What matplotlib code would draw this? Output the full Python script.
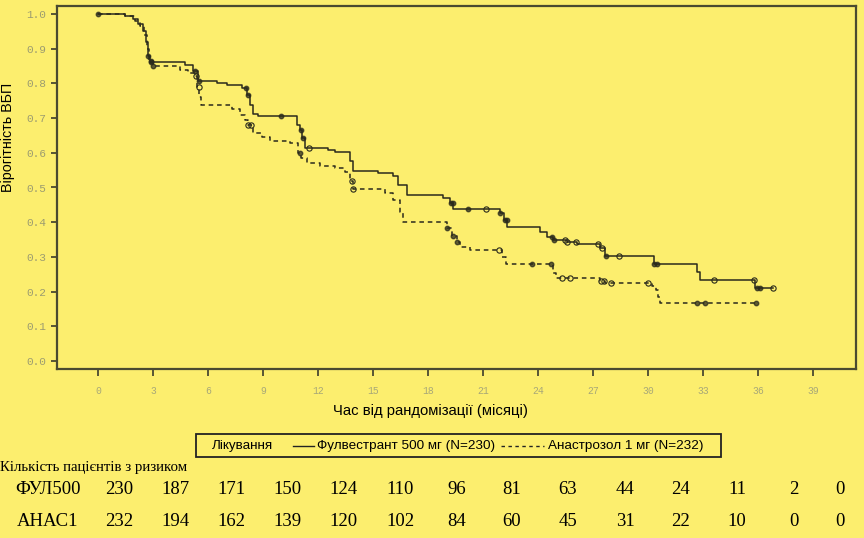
import numpy as np
import matplotlib
matplotlib.use('Agg')
import matplotlib.pyplot as plt
from matplotlib.lines import Line2D
from matplotlib.patches import Rectangle

# --- Kaplan-Meier step data ---
ful_t = [0, 1.47, 1.91, 2.18, 2.45, 2.62, 2.73, 2.84, 4.75, 5.18, 5.46, 6.49, 7.04,
         7.86, 8.13, 8.29, 8.46, 8.73, 10.86, 11.02, 11.13, 11.29, 12.55, 12.93,
         13.75, 13.91, 15.28, 16.09, 16.37, 16.86, 18.82, 19.20, 19.37, 21.93,
         22.15, 22.31, 24.11, 24.50, 24.82, 25.59, 26.13, 27.39, 27.66, 30.33,
         32.68, 32.84, 35.84, 36.83]
ful_s = [1.0, 0.995, 0.985, 0.97, 0.95, 0.92, 0.88, 0.862, 0.853, 0.835, 0.807, 0.801,
         0.795, 0.787, 0.767, 0.738, 0.712, 0.706, 0.68, 0.666, 0.643, 0.614, 0.608,
         0.602, 0.575, 0.548, 0.542, 0.533, 0.507, 0.478, 0.470, 0.455, 0.438,
         0.427, 0.405, 0.386, 0.372, 0.358, 0.349, 0.343, 0.337, 0.325, 0.303,
         0.280, 0.256, 0.233, 0.210, 0.210]

ana_t = [0, 1.47, 2.02, 2.29, 2.51, 2.67, 2.78, 3.0, 4.47, 4.91, 5.29, 5.40, 5.51,
         5.62, 7.31, 7.75, 8.02, 8.18, 8.46, 8.95, 9.38, 10.47, 10.91, 11.07, 11.40,
         12.11, 12.93, 13.48, 13.75, 13.91, 15.66, 16.09, 16.48, 16.64, 19.04,
         19.31, 19.59, 19.75, 20.29, 22.04, 22.26, 24.82, 24.99, 27.39, 27.66,
         30.22, 30.44, 30.55, 30.66, 35.95]
ana_s = [1.0, 0.995, 0.98, 0.965, 0.94, 0.90, 0.865, 0.85, 0.84, 0.83, 0.82, 0.79,
         0.76, 0.738, 0.725, 0.71, 0.695, 0.68, 0.657, 0.645, 0.635, 0.628, 0.60,
         0.585, 0.570, 0.562, 0.555, 0.545, 0.52, 0.496, 0.485, 0.464, 0.43, 0.40,
         0.383, 0.36, 0.343, 0.329, 0.320, 0.30, 0.280, 0.255, 0.239, 0.232, 0.225,
         0.215, 0.205, 0.185, 0.167, 0.167]

# censoring marks (months)
ful_open = [11.5, 21.17, 25.5, 25.6, 26.1, 27.3, 27.5, 28.4, 33.6, 35.8, 36.83]
ful_fill = [0, 2.75, 2.9, 5.3, 5.5, 8.05, 8.2, 9.98, 11.05, 11.2, 19.25, 19.35,
            20.19, 21.95, 22.2, 22.3, 24.77, 24.85, 27.7, 30.35, 30.5, 35.95, 36.1]
ana_open = [5.35, 5.5, 8.2, 8.35, 13.86, 13.92, 21.9, 25.3, 25.75, 27.45, 27.6,
            28.0, 30.0]
ana_fill = [2.9, 3.0, 11.0, 19.05, 19.35, 19.6, 23.7, 24.7, 32.7, 33.1, 35.9]

# --- number at risk table ---
risk_times = [0, 3, 6, 9, 12, 15, 18, 21, 24, 27, 30, 33, 36, 39]
ful_risk = [230, 187, 171, 150, 124, 110, 96, 81, 63, 44, 24, 11, 2, 0]
ana_risk = [232, 194, 162, 139, 120, 102, 84, 60, 45, 31, 22, 10, 0, 0]
risk_rows = ['ФУЛ500', 'АНАС1']

BG = '#fcee6e'
INK = '#2a2a1c'
W, H = 864, 538


def surv_at(t_arr, s_arr, times):
    idx = np.searchsorted(t_arr, times, side='right') - 1
    return np.asarray(s_arr)[idx]


fig = plt.figure(figsize=(W / 100, H / 100), dpi=100, facecolor=BG)
ax = fig.add_axes([57 / W, 1 - 369 / H, (856 - 57) / W, (369 - 6) / H])
ax.set_facecolor(BG)

ax.step(ful_t, ful_s, where='post', color=INK, lw=1.1)
ax.step(ana_t, ana_s, where='post', color=INK, lw=1.1, linestyle=(0, (3, 2.5)))

ax.plot(ful_open, surv_at(ful_t, ful_s, ful_open), 'o', ms=3.8, mfc='none', mec=INK, mew=0.8)
ax.plot(ful_fill, surv_at(ful_t, ful_s, ful_fill), 'o', ms=3.2, mfc=INK, mec=INK, alpha=0.75)
ax.plot(ana_open, surv_at(ana_t, ana_s, ana_open), 'o', ms=3.8, mfc='none', mec=INK, mew=0.8)
ax.plot(ana_fill, surv_at(ana_t, ana_s, ana_fill), 'o', ms=3.2, mfc=INK, mec=INK, alpha=0.75)

ax.set_xlim(-2.24, 41.35)
ax.set_ylim(-0.023, 1.023)
ax.set_xticks(risk_times)
ax.set_yticks(np.arange(0, 1.01, 0.1))
ax.set_yticklabels([f'{v:.1f}' for v in np.arange(0, 1.01, 0.1)])

for sp in ax.spines.values():
    sp.set_color('#4a4a30')
    sp.set_linewidth(1.6)

ax.tick_params(axis='both', colors='#4a4a30', width=1.3, direction='out')
ax.tick_params(axis='y', length=4, pad=4, labelsize=8, labelcolor='#9c9c70')
ax.tick_params(axis='x', length=5, pad=7, labelsize=7, labelcolor='#a8a878')
for lab in ax.get_xticklabels() + ax.get_yticklabels():
    lab.set_family('Liberation Mono')

fig.text(8 / W, 1 - 137 / H, 'Вірогітність ВБП', rotation=90, ha='center', va='center',
         fontsize=10.3, family='Liberation Sans')
fig.text(430 / W, 1 - 411 / H, 'Час від рандомізації (місяці)', ha='center', va='center',
         fontsize=10.7, family='Liberation Sans')

# legend box
fig.add_artist(Rectangle((196 / W, 1 - 457 / H), (721 - 196) / W, 23 / H,
                         transform=fig.transFigure, fill=False, ec='#222', lw=1.3))
ly = 1 - 446 / H
fig.text(212 / W, ly, 'Лікування', ha='left', va='center', fontsize=9.7, family='Liberation Sans')
fig.add_artist(Line2D([293 / W, 314 / W], [ly, ly], transform=fig.transFigure, color='#222', lw=1))
fig.text(317 / W, ly, 'Фулвестрант 500 мг (N=230)', ha='left', va='center', fontsize=9.7,
         family='Liberation Sans')
fig.add_artist(Line2D([501 / W, 544 / W], [ly, ly], transform=fig.transFigure, color='#222', lw=1,
                      linestyle=(0, (2.5, 2.5))))
fig.text(548 / W, ly, 'Анастрозол 1 мг (N=232)', ha='left', va='center', fontsize=9.7,
         family='Liberation Sans')

# risk table
fig.text(0, 1 - 468 / H, 'Кількість пацієнтів з ризиком', ha='left', va='center',
         fontsize=10.7, family='Liberation Serif')
col_x = [119, 175, 231, 287, 343, 400, 457, 512, 568, 625, 681, 737, 794, 840]
for row_y, name, vals in [(489, risk_rows[0], ful_risk), (522, risk_rows[1], ana_risk)]:
    fig.text(48 / W, 1 - row_y / H, name, ha='center', va='center', fontsize=13.5,
             family='Liberation Serif')
    for x, v in zip(col_x, vals):
        fig.text(x / W, 1 - row_y / H, str(v), ha='center', va='center', fontsize=13.5,
                 family='Liberation Serif')

fig.savefig('out.png', dpi=100, facecolor=BG)
